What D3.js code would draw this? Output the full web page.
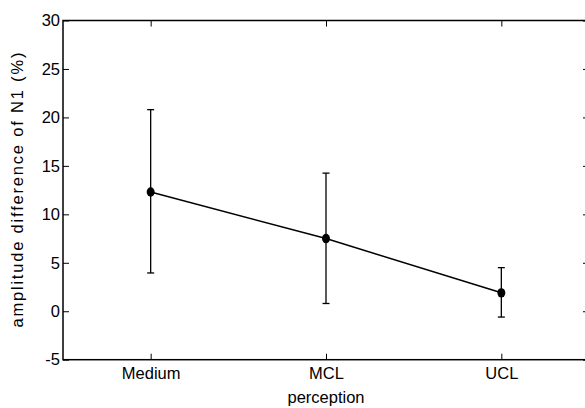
<!DOCTYPE html>
<html>
<head>
<meta charset="utf-8">
<script src="https://cdn.jsdelivr.net/npm/d3@7"></script>
<style>
  body { margin: 0; background: #fff; }
  svg { display: block; }
  .axis text { font-family: "Liberation Sans", Arial, sans-serif; font-size: 16.5px; fill: #000; }
  .axis line { stroke: #000; stroke-width: 1; }
</style>
</head>
<body>
<svg id="chart"></svg>
<script>
// data
var categories = ["Medium", "MCL", "UCL"];
var means = [12.3, 7.5, 1.9];
var upper = [20.8, 14.25, 4.5];
var lower = [3.95, 0.8, -0.6];
var yTicks = [-5, 0, 5, 10, 15, 20, 25, 30];

var width = 585, height = 408;
// plot box (right edge sits just past the window)
var boxLeft = 63, boxRight = 589, boxTop = 20.5, boxBottom = 359.7;

var svg = d3.select("#chart")
            .attr("width", width)
            .attr("height", height);

var x = d3.scalePoint()
          .domain(categories)
          .range([boxLeft, boxRight])
          .padding(0.5);

var y = d3.scaleLinear()
          .domain([-5, 30])
          .range([boxBottom, boxTop]);

var points = categories.map((c, i) => ({
    cat: c, mean: means[i], hi: upper[i], lo: lower[i]
}));

// axes, ticks pointing inward
svg.append("g")
   .attr("class", "axis")
   .attr("transform", "translate(" + boxLeft + ",0)")
   .call(d3.axisLeft(y).tickValues(yTicks).tickSize(-6).tickPadding(3)
           .tickFormat(d => String(d)))   // plain hyphen for -5
   .call(g => g.select(".domain").remove());

svg.append("g")
   .attr("class", "axis")
   .attr("transform", "translate(" + boxRight + ",0)")
   .call(d3.axisRight(y).tickValues(yTicks).tickSize(-6).tickFormat(""))
   .call(g => g.select(".domain").remove());

svg.append("g")
   .attr("class", "axis")
   .attr("transform", "translate(0," + boxBottom + ")")
   .call(d3.axisBottom(x).tickSize(-6).tickPadding(8))
   .call(g => g.select(".domain").remove());

svg.append("g")
   .attr("class", "axis")
   .attr("transform", "translate(0," + boxTop + ")")
   .call(d3.axisTop(x).tickSize(-6).tickFormat(""))
   .call(g => g.select(".domain").remove());

// frame
svg.append("rect")
   .attr("x", boxLeft)
   .attr("y", boxTop)
   .attr("width", boxRight - boxLeft)
   .attr("height", boxBottom - boxTop)
   .attr("fill", "none")
   .attr("stroke", "#000")
   .attr("stroke-width", 1.5);

// error bars
var bars = svg.append("g")
              .attr("stroke", "#000")
              .attr("stroke-width", 1.3);

bars.selectAll(".whisker")
    .data(points)
    .enter()
    .append("line")
    .attr("x1", d => x(d.cat))
    .attr("x2", d => x(d.cat))
    .attr("y1", d => y(d.hi))
    .attr("y2", d => y(d.lo));

bars.selectAll(".cap-hi")
    .data(points)
    .enter()
    .append("line")
    .attr("x1", d => x(d.cat) - 3.5)
    .attr("x2", d => x(d.cat) + 3.5)
    .attr("y1", d => y(d.hi))
    .attr("y2", d => y(d.hi));

bars.selectAll(".cap-lo")
    .data(points)
    .enter()
    .append("line")
    .attr("x1", d => x(d.cat) - 3.5)
    .attr("x2", d => x(d.cat) + 3.5)
    .attr("y1", d => y(d.lo))
    .attr("y2", d => y(d.lo));

// mean line and markers
var line = d3.line()
             .x(d => x(d.cat))
             .y(d => y(d.mean));

svg.append("path")
   .datum(points)
   .attr("d", line)
   .attr("fill", "none")
   .attr("stroke", "#000")
   .attr("stroke-width", 1.5);

svg.selectAll(".marker")
   .data(points)
   .enter()
   .append("ellipse")
   .attr("cx", d => x(d.cat))
   .attr("cy", d => y(d.mean))
   .attr("rx", 4)
   .attr("ry", 4.7)
   .attr("fill", "#000");

// axis titles
svg.append("text")
   .attr("x", x("MCL"))
   .attr("y", 403)
   .attr("text-anchor", "middle")
   .style("font-family", "Liberation Sans, Arial, sans-serif")
   .style("font-size", "16.5px")
   .text("perception");

svg.append("text")
   .attr("transform", "translate(23," + (boxTop + boxBottom) / 2 + ") rotate(-90)")
   .attr("text-anchor", "middle")
   .attr("textLength", 275)
   .attr("lengthAdjust", "spacing")
   .style("font-family", "Liberation Sans, Arial, sans-serif")
   .style("font-size", "16.5px")
   .text("amplitude difference of N1 (%)");
</script>
</body>
</html>
